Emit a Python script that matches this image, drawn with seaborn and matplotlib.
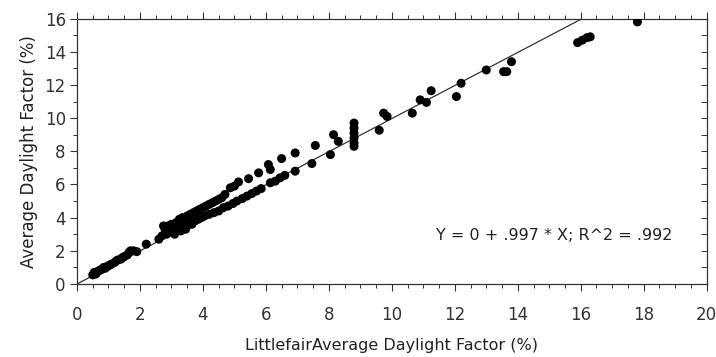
import numpy as np
import pandas as pd
import matplotlib
matplotlib.use('Agg')
import matplotlib.pyplot as plt
from matplotlib.ticker import MultipleLocator
import seaborn as sns

# Littlefair ADF (x) vs computed ADF (y)
littlefair_adf = [
    0.5, 0.55, 0.6, 0.65, 0.7, 0.75, 0.8, 0.85, 0.9, 0.95, 1.0, 1.05, 1.1, 1.2,
    1.25, 1.3, 1.4, 1.45, 1.5, 1.6, 1.65, 1.7, 1.8, 1.9, 2.2,
    2.6, 2.7, 2.75, 2.8, 2.85, 2.9, 2.95, 3.0, 3.05, 3.1, 3.15, 3.2, 3.25, 3.3,
    3.3, 3.35, 3.4, 3.45, 3.5, 3.5, 3.55, 3.6, 3.65, 3.7, 3.75, 3.8, 3.85, 3.9,
    3.95, 4.0, 4.05, 4.1, 4.2, 4.2, 4.3, 4.35, 4.4, 4.5, 4.5, 4.6, 4.65, 4.7,
    4.8, 4.87, 4.95, 5.0, 5.08, 5.13, 5.25, 5.4, 5.45, 5.55, 5.7, 5.77, 5.85,
    6.08, 6.14, 6.14, 6.3, 6.45, 6.5, 6.6, 6.93, 6.93, 7.46, 7.57, 8.05, 8.15,
    8.3, 8.8, 8.8, 8.8, 8.8, 8.8, 8.8, 9.6, 9.74, 9.85, 10.65, 10.9, 11.1,
    11.25, 12.05, 12.2, 13.0, 13.55, 13.65, 13.8, 15.9, 16.05, 16.2, 16.3, 17.8,
]
average_df = [
    0.55, 0.7, 0.6, 0.75, 0.8, 0.85, 0.9, 1.0, 0.95, 1.05, 1.1, 1.15, 1.2, 1.3,
    1.4, 1.45, 1.5, 1.6, 1.65, 1.75, 1.9, 2.0, 2.0, 1.95, 2.4,
    2.7, 2.9, 3.5, 3.3, 3.0, 3.5, 3.2, 3.6, 3.3, 3.0, 3.7, 3.4, 3.9, 3.6,
    3.2, 4.0, 3.7, 3.3, 4.1, 3.5, 3.9, 4.2, 3.6, 4.3, 3.8, 4.4, 3.9, 4.5,
    4.0, 4.6, 4.1, 4.7, 4.8, 4.2, 4.9, 4.3, 5.0, 5.1, 4.4, 5.2, 4.6, 5.4,
    4.7, 5.8, 4.85, 5.9, 5.0, 6.15, 5.15, 5.3, 6.35, 5.45, 5.6, 6.7, 5.75,
    7.2, 6.9, 6.1, 6.2, 6.4, 7.56, 6.55, 7.9, 6.8, 7.26, 8.35, 7.8, 9.0,
    8.6, 9.7, 9.4, 9.1, 8.8, 8.5, 8.3, 9.27, 10.3, 10.1, 10.3, 11.1, 10.95,
    11.65, 11.3, 12.1, 12.9, 12.8, 12.8, 13.4, 14.55, 14.7, 14.85, 14.9, 15.8,
]

# regression reported on the chart
fit_intercept = 0.0
fit_slope = 0.997
fit_label = 'Y = 0 + .997 * X; R^2 = .992'

df = pd.DataFrame({'x': littlefair_adf, 'y': average_df})
fit_x = np.array([0.0, 20.0])
fit_df = pd.DataFrame({'x': fit_x, 'y': fit_intercept + fit_slope * fit_x})

sns.set_style('ticks')
plt.rcParams['font.family'] = ['DejaVu Sans']

fig = plt.figure(figsize=(7.16, 3.57), dpi=100)
ax = fig.add_axes([0.1075, 0.2045, 0.8795, 0.7435])

sns.lineplot(data=fit_df, x='x', y='y', ax=ax, color='#333333', linewidth=0.9)
sns.scatterplot(data=df, x='x', y='y', ax=ax, color='black', s=42,
                edgecolor='none', zorder=3)

ax.set_xlim(0, 20)
ax.set_ylim(0, 16)
ax.xaxis.set_major_locator(MultipleLocator(2))
ax.xaxis.set_minor_locator(MultipleLocator(0.5))
ax.yaxis.set_major_locator(MultipleLocator(2))
ax.yaxis.set_minor_locator(MultipleLocator(1))

for s in ax.spines.values():
    s.set_visible(True)
    s.set_linewidth(0.9)
    s.set_color('#333333')

ax.tick_params(which='major', length=5, width=0.8, labelsize=12, colors='#333333',
               top=True, direction='out')
ax.tick_params(which='minor', length=3, width=0.7, top=True, direction='out',
               colors='#333333')
ax.tick_params(axis='x', pad=11)
ax.tick_params(axis='y', pad=3)

sec = ax.secondary_yaxis('right')
sec.yaxis.set_major_locator(MultipleLocator(1))
sec.tick_params(direction='in', length=4, width=0.7, labelright=False, colors='#333333')
sec.spines['right'].set_visible(False)

ax.set_xlabel('LittlefairAverage Daylight Factor (%)', fontsize=11.5, labelpad=10,
              color='#222222')
ax.set_ylabel('Average Daylight Factor (%)', fontsize=12, labelpad=5, color='#222222')

ax.text(11.4, 2.9, fit_label, fontsize=11.5, va='center', ha='left', color='#222222')

fig.savefig('out.png', dpi=100)
